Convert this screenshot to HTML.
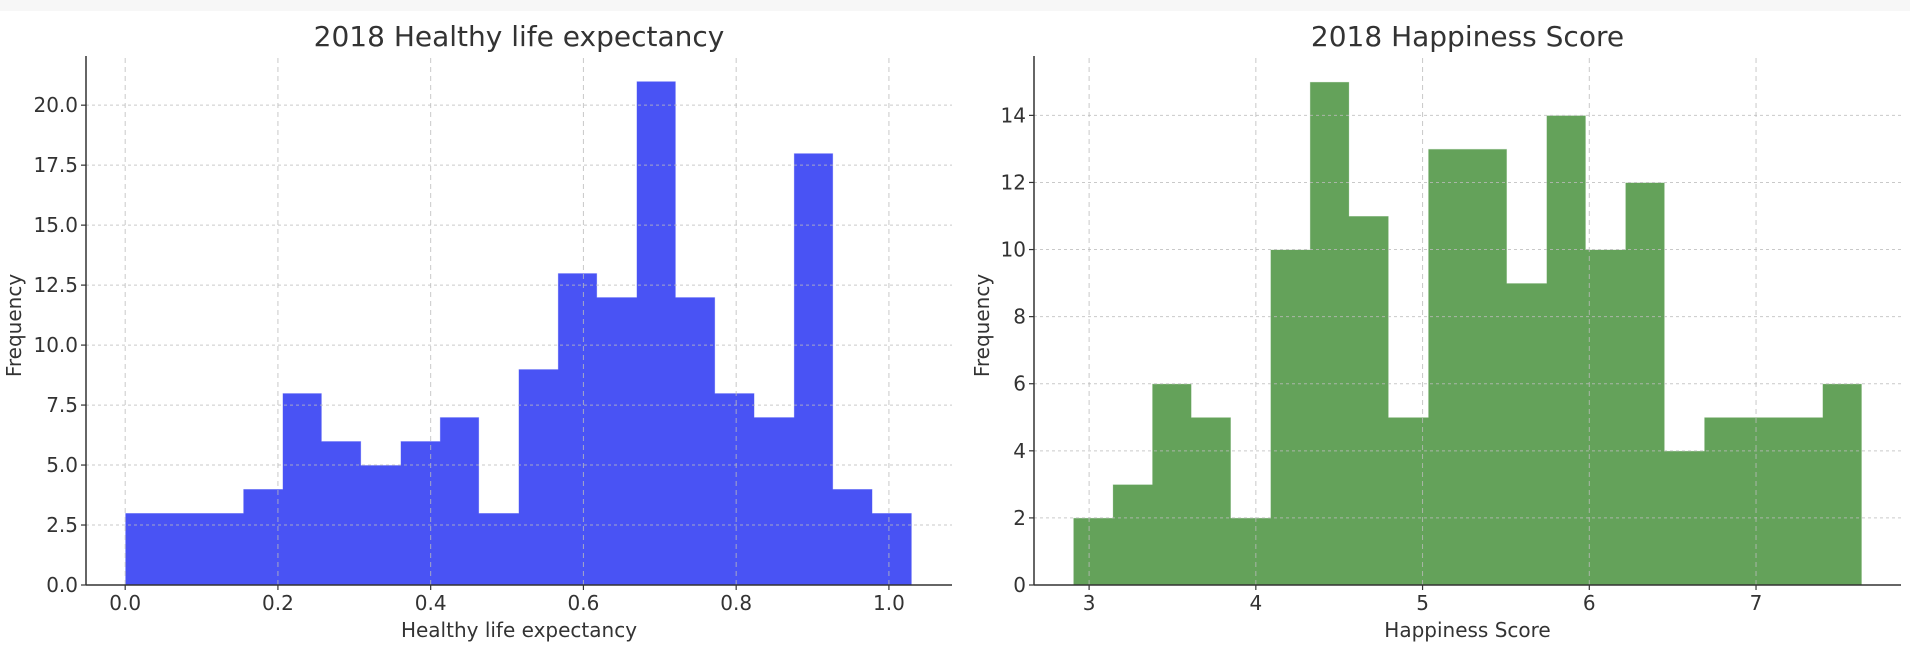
<!DOCTYPE html>
<html><head><meta charset="utf-8">
<style>
html,body{margin:0;padding:0;background:#fff;}
svg{display:block;font-family:"DejaVu Sans","Liberation Sans",sans-serif;}
</style></head>
<body>
<svg id="fig" width="1910" height="654" viewBox="0 0 1910 654" xmlns="http://www.w3.org/2000/svg">
<rect x="0" y="0" width="1910" height="11" fill="#f7f7f7"/>
<g id="left"></g>
<g id="right"></g>
</svg>
<script>
// Left chart data
const lifeStart = 0.0;
const lifeBinWidth = 0.0515;
const lifeCounts = [3,3,3,4,8,6,5,6,7,3,9,13,12,21,12,8,7,18,4,3];
const lifeXTicks = [0.0,0.2,0.4,0.6,0.8,1.0];
const lifeXTickLabels = ["0.0","0.2","0.4","0.6","0.8","1.0"];
const lifeYTicks = [0,2.5,5,7.5,10,12.5,15,17.5,20];
const lifeYTickLabels = ["0.0","2.5","5.0","7.5","10.0","12.5","15.0","17.5","20.0"];
// Right chart data
const happyStart = 2.905;
const happyBinWidth = 0.2365;
const happyCounts = [2,3,6,5,2,10,15,11,5,13,13,9,14,10,12,4,5,5,5,6];
const happyXTicks = [3,4,5,6,7];
const happyXTickLabels = ["3","4","5","6","7"];
const happyYTicks = [0,2,4,6,8,10,12,14];
const happyYTickLabels = ["0","2","4","6","8","10","12","14"];

const NS = "http://www.w3.org/2000/svg";
function mk(parent, tag, attrs){const e=document.createElementNS(NS,tag);for(const k in attrs)e.setAttribute(k,attrs[k]);parent.appendChild(e);return e;}

function drawChart(g, cfg){
  const {x0,x1,y0,y1,xmin,xmax,ymax,start,bw,counts,xt,xtl,yt,ytl,color,title,xlabel,ylabelX} = cfg;
  const sx = v => x0 + (v - xmin) / (xmax - xmin) * (x1 - x0);
  const sy = v => y0 - v / ymax * (y0 - y1);
  let d = `M${sx(start)},${sy(0)}`;
  counts.forEach((c,i)=>{
    d += ` L${sx(start+i*bw)},${sy(c)} L${sx(start+(i+1)*bw)},${sy(c)}`;
  });
  d += ` L${sx(start+counts.length*bw)},${sy(0)} Z`;
  const p = mk(g,'path',{d:d,fill:color,stroke:'#ffffff','stroke-width':0.8,'stroke-opacity':0.7});
  
  
  yt.forEach((v,i)=>{
    const l = mk(g,'line',{x1:x0,x2:x1,y1:sy(v),y2:sy(v),stroke:'#bbbbbb','stroke-width':1,'stroke-dasharray':'3,3','stroke-opacity':0.8});
    
    
    const tk = mk(g,'line',{x1:x0-5,x2:x0,y1:sy(v),y2:sy(v),stroke:'#333','stroke-width':1.2});
    
    
    const t = mk(g,'text',{x:x0-8,y:sy(v)+7,'text-anchor':'end','font-size':20,fill:'#333'});
    t.textContent = ytl[i];
    
    
  });
  xt.forEach((v,i)=>{
    const l = mk(g,'line',{x1:sx(v),x2:sx(v),y1:y0,y2:y1,stroke:'#bbbbbb','stroke-width':1,'stroke-dasharray':'5,4','stroke-opacity':0.8});
    
    
    const tk = mk(g,'line',{x1:sx(v),x2:sx(v),y1:y0,y2:y0+5,stroke:'#333','stroke-width':1.2});
    
    
    const t = mk(g,'text',{x:sx(v),y:y0+25,'text-anchor':'middle','font-size':20,fill:'#333'});
    t.textContent = xtl[i];
    
    
  });
  const ls = mk(g,'line',{x1:x0,x2:x0,y1:y1,y2:y0,stroke:'#333','stroke-width':1.5});
  
  
  const bs = mk(g,'line',{x1:x0,x2:x1,y1:y0,y2:y0,stroke:'#333','stroke-width':1.5});
  
  
  const tt = mk(g,'text',{x:(x0+x1)/2,y:46,'text-anchor':'middle','font-size':28,fill:'#333'});
  tt.textContent = title;
  
  
  const xl = mk(g,'text',{x:(x0+x1)/2,y:637,'text-anchor':'middle','font-size':20,fill:'#333'});
  xl.textContent = xlabel;
  
  
  const yl = mk(g,'text',{x:0,y:0,'text-anchor':'middle','font-size':20,fill:'#333',transform:`translate(${ylabelX},${(y0+y1)/2+5}) rotate(-90)`});
  yl.textContent = 'Frequency';
  
  
}

drawChart(document.getElementById('left'),{
  x0:86,x1:952,y0:585,y1:56,xmin:-0.0513,xmax:1.0826,ymax:22.05,
  start:lifeStart,bw:lifeBinWidth,counts:lifeCounts,xt:lifeXTicks,xtl:lifeXTickLabels,
  yt:lifeYTicks,ytl:lifeYTickLabels,color:'#4953f4',
  title:'2018 Healthy life expectancy',xlabel:'Healthy life expectancy',ylabelX:21
});
drawChart(document.getElementById('right'),{
  x0:1034,x1:1901,y0:585,y1:56,xmin:2.6695,xmax:7.8695,ymax:15.77,
  start:happyStart,bw:happyBinWidth,counts:happyCounts,xt:happyXTicks,xtl:happyXTickLabels,
  yt:happyYTicks,ytl:happyYTickLabels,color:'#64a25a',
  title:'2018 Happiness Score',xlabel:'Happiness Score',ylabelX:989
});
</script>
</body></html>
